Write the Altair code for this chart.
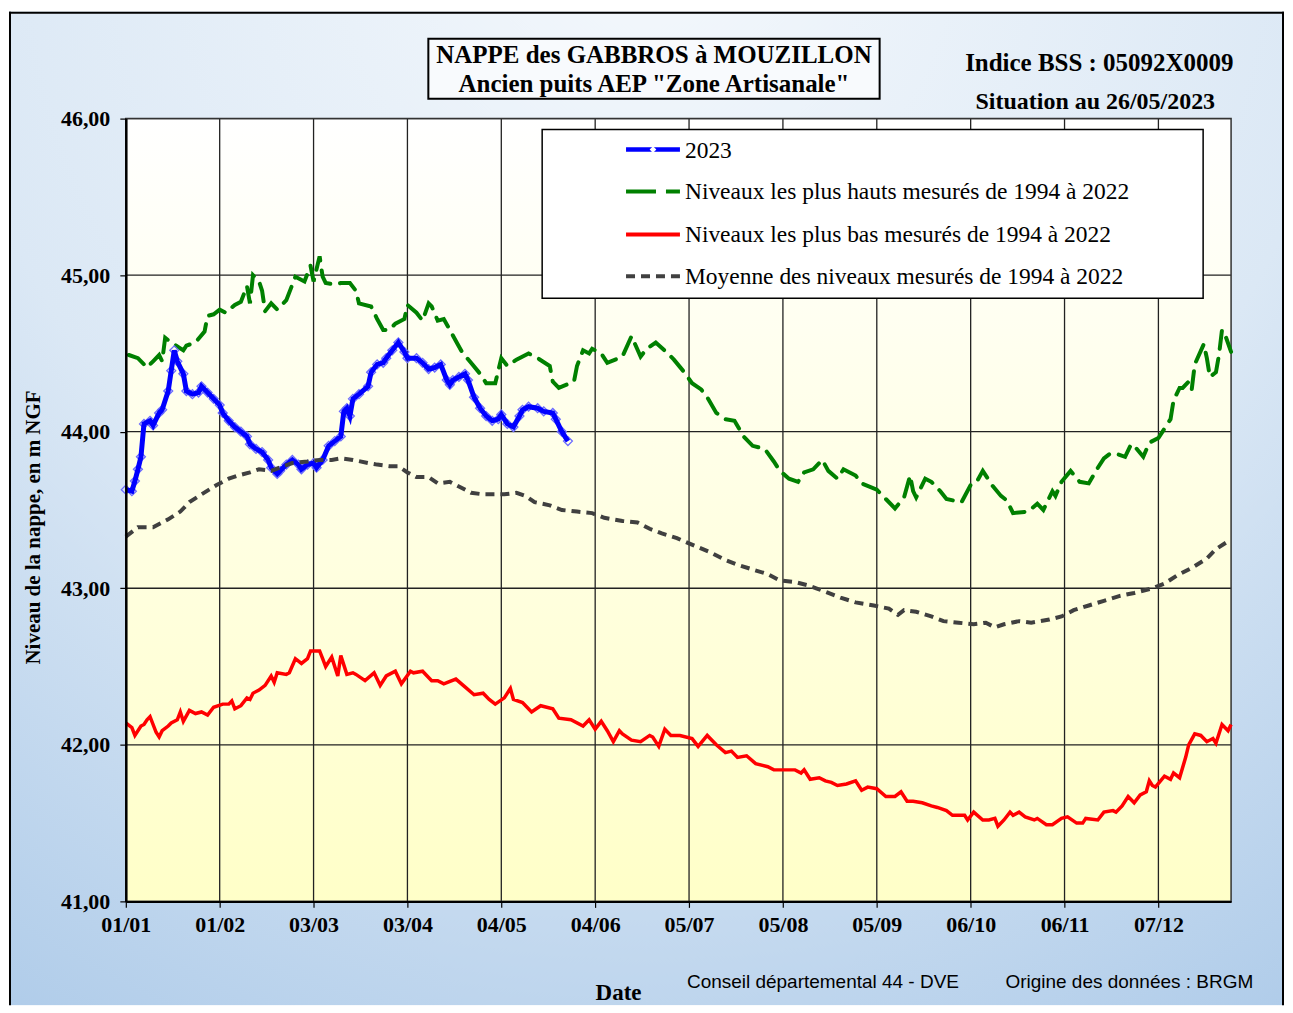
import altair as alt
import pandas as pd

W, H = 1107, 784

# ---- data (day index in the 366-day template year, level in m NGF) ----
blue_days = [1, 3, 4, 5, 6, 7, 9, 10, 12, 13, 15, 16, 17, 18, 20, 21, 23, 25, 26, 28, 30, 32, 33, 35, 37, 39,
             41, 42, 44, 46, 48, 49, 51, 52, 54, 56, 58, 59, 61, 63, 64, 66, 68, 70, 72, 73, 74, 75, 76, 78,
             81, 82, 84, 86, 87, 89, 91, 93, 94, 97, 99, 101, 103, 105, 107, 108, 109, 111, 113, 114, 116,
             118, 120, 122, 124, 125, 127, 129, 131, 132, 134, 137, 139, 142, 143, 145, 147]
blue_vals = [43.63, 43.62, 43.685, 43.76, 43.84, 44.05, 44.07, 44.04, 44.12, 44.14, 44.26, 44.39, 44.52, 44.45,
             44.37, 44.26, 44.24, 44.25, 44.29, 44.25, 44.21, 44.17, 44.12, 44.07, 44.03, 44.00, 43.97, 43.92,
             43.89, 43.87, 43.82, 43.77, 43.73, 43.75, 43.79, 43.82, 43.79, 43.76, 43.79, 43.80, 43.77, 43.82,
             43.91, 43.94, 43.97, 44.13, 44.15, 44.10, 44.21, 44.24, 44.29, 44.38, 44.43, 44.44, 44.47, 44.52,
             44.57, 44.51, 44.47, 44.47, 44.44, 44.40, 44.41, 44.43, 44.33, 44.30, 44.33, 44.35, 44.37, 44.33,
             44.22, 44.15, 44.10, 44.07, 44.08, 44.11, 44.05, 44.03, 44.10, 44.14, 44.16, 44.15, 44.13, 44.12,
             44.08, 44.00, 43.94]

green_days = [2, 5, 8, 10, 12, 13, 14, 16, 20, 21, 24, 27, 28, 30, 32, 34, 37, 39, 41, 42, 43, 45, 46, 47, 49,
              51, 54, 57, 60, 62, 63, 65, 66, 67, 70, 72, 75, 77, 78, 82, 84, 86, 88, 90, 93, 94, 97, 99, 101,
              102, 104, 106, 108, 110, 112, 115, 118, 120, 123, 125, 127, 130, 134, 137, 141, 142, 144, 149,
              150, 152, 154, 155, 158, 160, 165, 168, 171, 173, 176, 180, 182, 185, 188, 191, 193, 196, 199,
              202, 205, 208, 212, 215, 217, 220, 223, 225, 228, 231, 233, 236, 238, 242, 244, 249, 252, 255,
              258, 260, 261, 262, 265, 267, 270, 272, 277, 280, 282, 284, 287, 290, 292, 294, 299, 302, 304,
              307, 308, 310, 313, 316, 319, 322, 324, 326, 328, 331, 333, 334, 337, 339, 342, 344, 346, 347,
              349, 350, 352, 353, 354, 357, 358, 359, 361, 362, 363, 364, 366]
green_vals = [44.49, 44.47, 44.41, 44.45, 44.49, 44.45, 44.60, 44.57, 44.52, 44.55, 44.57, 44.64, 44.74, 44.75,
              44.78, 44.76, 44.81, 44.83, 44.93, 44.82, 45.00, 44.96, 44.90, 44.77, 44.82, 44.78, 44.84, 44.99,
              44.96, 45.06, 44.96, 45.12, 44.99, 44.95, 44.94, 44.95, 44.95, 44.90, 44.82, 44.80, 44.72, 44.65,
              44.65, 44.69, 44.72, 44.81, 44.76, 44.71, 44.82, 44.80, 44.71, 44.72, 44.65, 44.58, 44.51, 44.44,
              44.37, 44.31, 44.31, 44.47, 44.42, 44.46, 44.50, 44.47, 44.42, 44.32, 44.28, 44.32, 44.42, 44.52,
              44.50, 44.53, 44.50, 44.44, 44.48, 44.61, 44.48, 44.53, 44.57, 44.50, 44.46, 44.39, 44.31, 44.27,
              44.22, 44.12, 44.08, 44.07, 43.97, 43.91, 43.89, 43.81, 43.75, 43.70, 43.68, 43.74, 43.76, 43.82,
              43.75, 43.70, 43.76, 43.72, 43.67, 43.63, 43.57, 43.51, 43.58, 43.72, 43.62, 43.58, 43.70, 43.68,
              43.62, 43.57, 43.55, 43.66, 43.68, 43.75, 43.66, 43.59, 43.56, 43.48, 43.49, 43.54, 43.50, 43.62,
              43.59, 43.68, 43.75, 43.68, 43.67, 43.77, 43.83, 43.86, 43.86, 43.84, 43.92, 43.91, 43.84, 43.93,
              43.96, 44.02, 44.08, 44.20, 44.28, 44.28, 44.32, 44.27, 44.43, 44.56, 44.47, 44.35, 44.38, 44.49,
              44.65, 44.62, 44.51]

red_days = [1, 3, 4, 6, 7, 8, 9, 11, 12, 13, 15, 16, 18, 19, 20, 22, 24, 26, 28, 30, 33, 35, 36, 37, 39, 41,
            42, 43, 45, 47, 49, 50, 51, 54, 55, 57, 59, 61, 62, 65, 66, 67, 69, 71, 72, 74, 76, 77, 80, 83, 85,
            87, 90, 92, 95, 96, 99, 102, 104, 106, 110, 113, 116, 119, 121, 123, 126, 128, 129, 132, 135, 138,
            142, 144, 148, 152, 154, 156, 158, 160, 162, 164, 165, 168, 171, 174, 175, 177, 179, 181, 184, 188,
            190, 193, 196, 199, 201, 203, 206, 209, 213, 215, 219, 222, 224, 225, 227, 230, 232, 234, 236, 239,
            242, 244, 246, 249, 252, 255, 257, 259, 261, 264, 267, 269, 272, 274, 278, 279, 281, 284, 286, 288,
            289, 291, 293, 294, 296, 298, 301, 302, 305, 307, 310, 312, 315, 317, 318, 322, 324, 327, 328, 330,
            332, 334, 336, 338, 339, 340, 341, 344, 346, 347, 349, 351, 352, 354, 356, 358, 360, 361, 363, 365,
            366]
red_vals = [42.14, 42.11, 42.06, 42.12, 42.13, 42.16, 42.18, 42.08, 42.05, 42.09, 42.12, 42.14, 42.16, 42.21,
            42.15, 42.22, 42.20, 42.21, 42.19, 42.24, 42.26, 42.26, 42.28, 42.23, 42.25, 42.30, 42.29, 42.33,
            42.35, 42.38, 42.44, 42.40, 42.46, 42.45, 42.46, 42.55, 42.52, 42.55, 42.60, 42.60, 42.55, 42.50,
            42.56, 42.44, 42.57, 42.45, 42.46, 42.45, 42.41, 42.46, 42.38, 42.44, 42.47, 42.39, 42.47, 42.46,
            42.47, 42.41, 42.41, 42.39, 42.42, 42.37, 42.32, 42.33, 42.29, 42.26, 42.30, 42.36, 42.29, 42.27,
            42.21, 42.25, 42.23, 42.17, 42.16, 42.12, 42.16, 42.10, 42.15, 42.09, 42.02, 42.09, 42.07, 42.03,
            42.02, 42.06, 42.05, 41.99, 42.10, 42.06, 42.06, 42.04, 41.99, 42.06, 42.00, 41.95, 41.96, 41.92,
            41.93, 41.88, 41.86, 41.84, 41.84, 41.84, 41.82, 41.84, 41.78, 41.79, 41.77, 41.76, 41.74, 41.75,
            41.77, 41.71, 41.73, 41.72, 41.67, 41.67, 41.70, 41.64, 41.64, 41.63, 41.61, 41.60, 41.58, 41.55,
            41.55, 41.52, 41.57, 41.52, 41.52, 41.53, 41.48, 41.52, 41.57, 41.55, 41.57, 41.54, 41.52, 41.53,
            41.49, 41.49, 41.53, 41.54, 41.50, 41.50, 41.53, 41.52, 41.57, 41.58, 41.57, 41.61, 41.67, 41.63,
            41.68, 41.70, 41.77, 41.74, 41.73, 41.80, 41.78, 41.82, 41.79, 41.92, 42.00, 42.07, 42.06, 42.02,
            42.04, 42.01, 42.13, 42.09, 42.13]

mean_days = [1, 5, 10, 15, 19, 22, 26, 31, 35, 38, 42, 45, 49, 53, 56, 61, 65, 69, 72, 76, 81, 84, 88, 91, 94,
             97, 101, 104, 108, 111, 115, 119, 123, 126, 130, 133, 136, 141, 145, 150, 155, 159, 165, 170, 174,
             178, 183, 189, 194, 199, 203, 208, 213, 217, 222, 226, 229, 233, 237, 242, 248, 253, 256, 258, 262,
             267, 271, 276, 281, 285, 288, 291, 296, 300, 306, 310, 314, 319, 324, 329, 334, 340, 344, 348, 353,
             358, 361, 365]
mean_vals = [43.33, 43.39, 43.39, 43.44, 43.49, 43.55, 43.60, 43.66, 43.70, 43.72, 43.74, 43.76, 43.75, 43.78,
             43.80, 43.81, 43.82, 43.82, 43.83, 43.82, 43.80, 43.79, 43.78, 43.78, 43.74, 43.71, 43.71, 43.67,
             43.68, 43.65, 43.61, 43.60, 43.60, 43.60, 43.61, 43.59, 43.55, 43.53, 43.50, 43.49, 43.48, 43.45,
             43.43, 43.42, 43.38, 43.35, 43.32, 43.27, 43.23, 43.18, 43.15, 43.12, 43.09, 43.05, 43.04, 43.02,
             43.00, 42.97, 42.94, 42.91, 42.89, 42.87, 42.83, 42.86, 42.85, 42.82, 42.79, 42.78, 42.77, 42.78,
             42.75, 42.77, 42.79, 42.78, 42.80, 42.82, 42.86, 42.89, 42.92, 42.95, 42.97, 43.00, 43.03, 43.08,
             43.13, 43.19, 43.25, 43.30]

x_tick_labels = ["01/01", "01/02", "03/03", "03/04", "04/05", "04/06",
                 "05/07", "05/08", "05/09", "06/10", "06/11", "07/12"]
y_ticks = [41, 42, 43, 44, 45, 46]

legend_labels = ["2023",
                 "Niveaux les plus hauts mesurés de 1994 à 2022",
                 "Niveaux les plus bas mesurés de 1994 à 2022",
                 "Moyenne des niveaux mesurés de 1994 à 2022"]

# ---- build frames (template year is a leap year: 366 days) ----
BASE = pd.Timestamp("2024-01-01")


def frame(days, vals):
    return pd.DataFrame({"date": BASE + pd.to_timedelta([d - 1 for d in days], unit="D"),
                         "value": vals})


df_blue = frame(blue_days, blue_vals)
df_green = frame(green_days, green_vals)
df_red = frame(red_days, red_vals)
df_mean = frame(mean_days, mean_vals)

tick_dates = [pd.Timestamp(2024, int(l[3:5]), int(l[0:2])) for l in x_tick_labels]
df_xgrid = pd.DataFrame({"date": tick_dates})
df_ygrid = pd.DataFrame({"value": y_ticks})
one = pd.DataFrame({"k": [0]})

SERIF = "Liberation Serif"
SANS = "Liberation Sans"

xscale = alt.Scale(domain=[alt.DateTime(year=2024, month=1, date=1),
                           alt.DateTime(year=2024, month=12, date=31)])
yscale = alt.Scale(domain=[41, 46], nice=False, zero=False)

xaxis = alt.Axis(values=[alt.DateTime(year=d.year, month=d.month, date=d.day) for d in tick_dates],
                 format="%d/%m", grid=False, labelFont=SERIF, labelFontWeight="bold", labelFontSize=22,
                 labelColor="black", labelPadding=7, labelFlush=False, labelOverlap=False,
                 tickColor="black", tickSize=6, tickWidth=1.2, domainColor="black", domainWidth=2,
                 title="Date", titleFont=SERIF, titleFontWeight="bold", titleFontSize=23,
                 titleColor="black", titleX=493, titleY=91, titleAlign="center",
                 titleBaseline="middle", zindex=1)
yaxis = alt.Axis(values=y_ticks, labelExpr="replace(format(datum.value, '.2f'), '.', ',')",
                 grid=False, labelFont=SERIF, labelFontWeight="bold", labelFontSize=22,
                 labelColor="black", labelPadding=10, tickColor="black", tickSize=6, tickWidth=1.2,
                 domainColor="black", domainWidth=2.5,
                 title="Niveau de la nappe, en m NGF", titleFont=SERIF, titleFontWeight="bold",
                 titleFontSize=21, titleColor="black", titleX=-92, titleY=409, titleAlign="center",
                 titleBaseline="middle", zindex=1)

X = alt.X("date:T", scale=xscale, axis=xaxis)
Y = alt.Y("value:Q", scale=yscale, axis=yaxis)

layers = []

# outer figure background (kept inside the 1293x1013 window)
OL, OR, OT, OB = -117, 1160, -107, 888
outer_bg = alt.RadialGradient(gradient="radial", x1=0.5, y1=0.05, r1=0, x2=0.5, y2=0.05, r2=1.0,
                              stops=[alt.GradientStop(color="#f4f8fc", offset=0),
                                     alt.GradientStop(color="#dbe8f5", offset=0.55),
                                     alt.GradientStop(color="#aecbe9", offset=1)])
layers.append(alt.Chart(one).mark_rect(fill=outer_bg).encode(
    x=alt.value(OL), x2=alt.value(OR), y=alt.value(OT), y2=alt.value(OB)))
# frame: left, top, right edges (bottom edge is off the picture)
layers.append(alt.Chart(one).mark_rule(color="black", strokeWidth=2).encode(
    x=alt.value(OL + 1), y=alt.value(OT), y2=alt.value(OB)))
layers.append(alt.Chart(one).mark_rule(color="black", strokeWidth=2).encode(
    x=alt.value(OR - 1), y=alt.value(OT), y2=alt.value(OB)))
layers.append(alt.Chart(one).mark_rule(color="black", strokeWidth=2).encode(
    x=alt.value(OL), x2=alt.value(OR), y=alt.value(OT + 1)))

# title box
layers.append(alt.Chart(one).mark_rect(fill="#f8fafd", stroke="black", strokeWidth=2).encode(
    x=alt.value(303), x2=alt.value(755), y=alt.value(-80), y2=alt.value(-20)))

# plot area background
plot_bg = alt.LinearGradient(gradient="linear", x1=0, y1=0, x2=0, y2=1,
                             stops=[alt.GradientStop(color="#ffffff", offset=0),
                                    alt.GradientStop(color="#ffffc8", offset=1)])
layers.append(alt.Chart(one).mark_rect(fill=plot_bg).encode(
    x=alt.value(0), x2=alt.value(W), y=alt.value(0), y2=alt.value(H)))

# grid lines
layers.append(alt.Chart(df_xgrid).mark_rule(color="#222222", strokeWidth=1.3).encode(x=X))
layers.append(alt.Chart(df_ygrid).mark_rule(color="#222222", strokeWidth=1.3).encode(y=Y))
# plot frame
layers.append(alt.Chart(one).mark_rect(fill="transparent", stroke="#333333", strokeWidth=1.5).encode(
    x=alt.value(0), x2=alt.value(W), y=alt.value(0), y2=alt.value(H)))

# data series
layers.append(alt.Chart(df_green).mark_line(color="#008000", strokeWidth=4, strokeDash=[18, 10],
                                            strokeCap="round").encode(x=X, y=Y))
layers.append(alt.Chart(df_red).mark_line(color="#ff0000", strokeWidth=3.5).encode(x=X, y=Y))
layers.append(alt.Chart(df_blue).mark_point(shape="diamond", filled=False, size=80, strokeWidth=1.3,
                                            color="#6a6aff", opacity=1).encode(x=X, y=Y))
layers.append(alt.Chart(df_blue).mark_line(color="#0000ff", strokeWidth=5).encode(x=X, y=Y))
layers.append(alt.Chart(df_mean).mark_line(color="#404040", strokeWidth=4, strokeDash=[9, 6]).encode(
    x=X, y=Y))

# legend box
layers.append(alt.Chart(one).mark_rect(fill="white", stroke="black", strokeWidth=1.5).encode(
    x=alt.value(417), x2=alt.value(1079), y=alt.value(11), y2=alt.value(180)))
leg_rows = [31, 73, 116, 158]
leg_styles = [dict(color="#0000ff", strokeWidth=4.5),
              dict(color="#008000", strokeWidth=4, strokeDash=[30, 10]),
              dict(color="#ff0000", strokeWidth=4),
              dict(color="#404040", strokeWidth=4, strokeDash=[9, 6])]
for yrow, style, label in zip(leg_rows, leg_styles, legend_labels):
    layers.append(alt.Chart(one).mark_rule(**style).encode(
        x=alt.value(501), x2=alt.value(555), y=alt.value(yrow)))
    layers.append(alt.Chart(one).mark_text(text=label, font=SERIF, fontSize=23.5, color="black",
                                           align="left", baseline="middle").encode(
        x=alt.value(560), y=alt.value(yrow + 1)))
layers.append(alt.Chart(one).mark_point(shape="diamond", filled=True, fill="white", size=45,
                                        strokeWidth=1.2, color="#5a5aff", opacity=1).encode(
    x=alt.value(528), y=alt.value(leg_rows[0])))


# texts
def txt(s, x, y, size, weight="bold", font=SERIF, align="center"):
    return alt.Chart(one).mark_text(text=s, font=font, fontSize=size, fontWeight=weight,
                                    color="black", align=align, baseline="middle").encode(
        x=alt.value(x), y=alt.value(y))


layers.append(txt("NAPPE des GABBROS à MOUZILLON", 529, -64, 25))
layers.append(txt('Ancien puits AEP "Zone Artisanale"', 529, -35, 25))
layers.append(txt("Indice BSS : 05092X0009", 975, -56, 25))
layers.append(txt("Situation au 26/05/2023", 971, -17, 24))
layers.append(txt("Conseil départemental 44 - DVE", 562, 865, 19, weight="normal", font=SANS, align="left"))
layers.append(txt("Origine des données : BRGM", 881, 865, 19, weight="normal", font=SANS, align="left"))

chart = alt.layer(*layers).properties(
    width=W, height=H,
    padding={"left": 0, "top": 2, "right": 0, "bottom": 0},
).configure_view(strokeWidth=0).configure(background="white")

chart.save("out.html", embed_options={"renderer": "svg", "actions": False})
